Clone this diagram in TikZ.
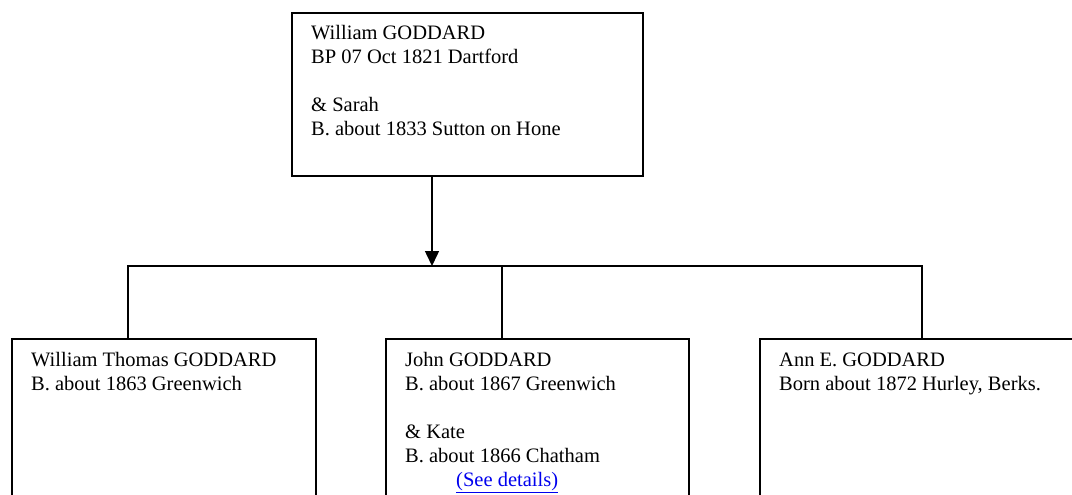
\documentclass[tikz,border=0pt]{standalone}
\usepackage{fontspec}
\setmainfont{Liberation Serif}
\usetikzlibrary{arrows.meta}
\definecolor{linkblue}{RGB}{0,0,238}
\tikzset{
  famibox/.style={draw, line width=1.8pt, rectangle, inner sep=0pt, anchor=north west},
  famitxt/.style={anchor=base west, inner sep=0pt, font=\fontsize{20.5}{24}\selectfont},
  conn/.style={line width=1.5pt},
  arr/.style={conn, -{Triangle[width=14pt,length=15pt]}},
}
\newcommand\famlines[1]{\vtop{\baselineskip=24pt #1}}
\begin{document}
\begin{tikzpicture}[x=1pt,y=-1pt]
\useasboundingbox (0,0) rectangle (1072,495);
\fill[white] (0,0) rectangle (1072,495);
\clip (0,0) rectangle (1072,495);

% boxes
\node[famibox, minimum width=351pt, minimum height=163pt] (top) at (291,12) {};
\node[famibox, minimum width=304pt, minimum height=200pt] (c1) at (11,338) {};
\node[famibox, minimum width=303pt, minimum height=200pt] (c2) at (385,338) {};
\node[famibox, minimum width=360pt, minimum height=200pt] (c3) at (759,338) {};

% texts
\node[famitxt] (ttop) at (311,40) {\famlines{\hbox{William GODDARD}\hbox{BP 07 Oct 1821 Dartford}\hbox{}\hbox{\& Sarah}\hbox{B. about 1833 Sutton on Hone}}};
\node[famitxt] (tc1) at (31,366) {\famlines{\hbox{William Thomas GODDARD}\hbox{B. about 1863 Greenwich}}};
\node[famitxt] (tc2) at (405,366) {\famlines{\hbox{John GODDARD}\hbox{B. about 1867 Greenwich}\hbox{}\hbox{\& Kate}\hbox{B. about 1866 Chatham}\hbox{\hspace*{51pt}\textcolor{linkblue}{\underline{(See details)}}}}};
\node[famitxt] (tc3) at (779,366) {\famlines{\hbox{Ann E. GODDARD}\hbox{Born about 1872 Hurley, Berks.}}};

% connectors
\coordinate (j) at (432,266);
\coordinate (hl) at (128,266);
\coordinate (hm) at (502,266);
\coordinate (hr) at (922,266);
\draw[arr] (top.south -| j) -- (j);
\draw[conn] (c1.north -| hl) -- (hl) -- (hr) -- (c3.north -| hr);
\draw[conn] (hm) -- (c2.north -| hm);
\end{tikzpicture}
\end{document}
